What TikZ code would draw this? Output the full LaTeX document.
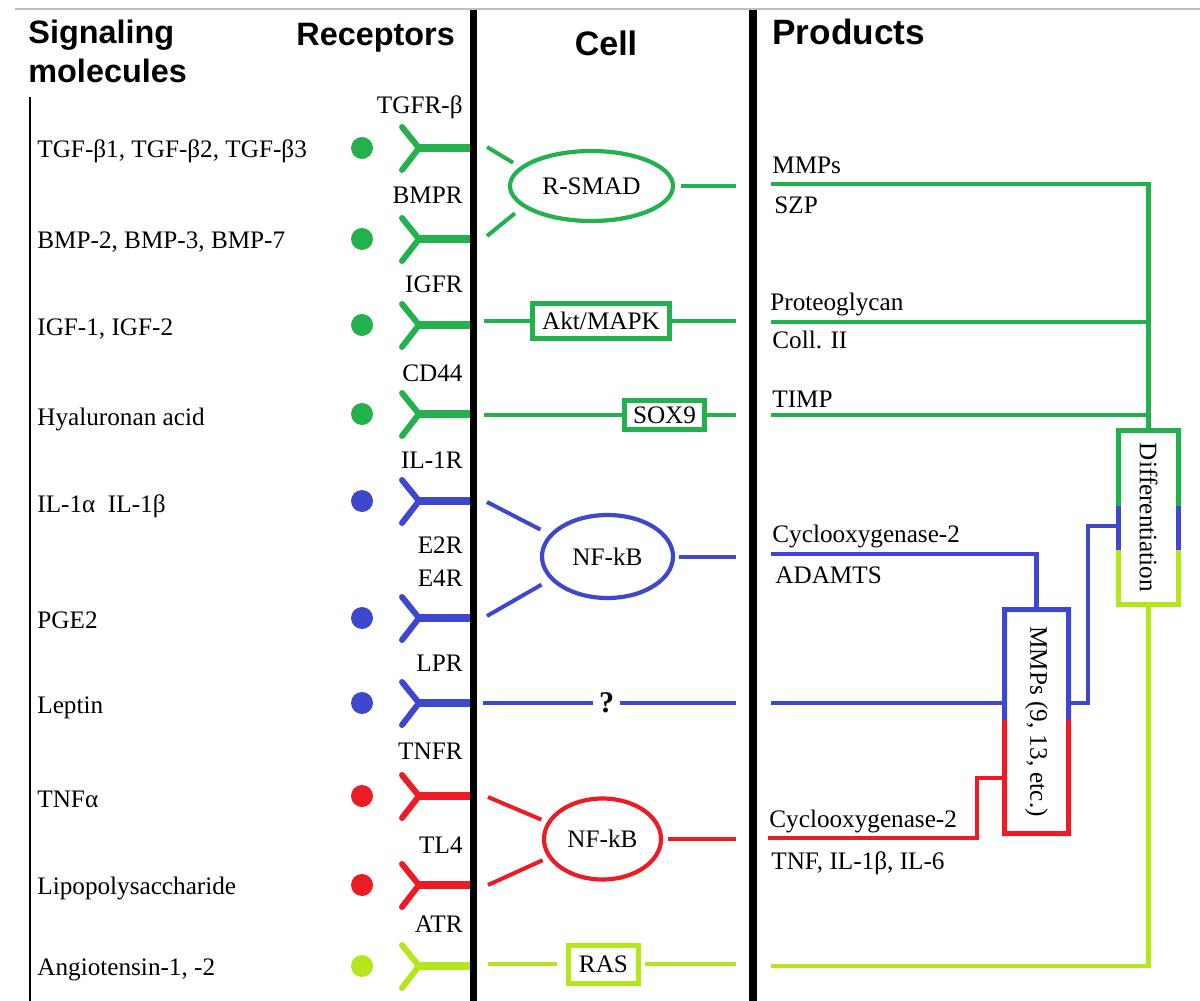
\documentclass[tikz,border=0pt]{standalone}
\usepackage{fontspec}
\setmainfont{Liberation Serif}
\newfontfamily\headfont{Liberation Sans}
\usetikzlibrary{calc,shapes.geometric}
\definecolor{pgreen}{RGB}{34,177,76}
\definecolor{pblue}{RGB}{63,72,204}
\definecolor{pred}{RGB}{237,28,36}
\definecolor{plime}{RGB}{181,230,29}
\begin{document}
\begin{tikzpicture}[x=0.5pt,y=-0.5pt,
	txt/.style={font=\fontsize{12.6}{15}\selectfont,inner sep=0pt},
	head/.style={font=\headfont\bfseries\fontsize{16.2}{19}\selectfont,inner sep=0pt},
	dot/.style={circle,inner sep=0pt,minimum size=11pt},
	sig/.style={line width=2pt},
	pline/.style={line width=2.3pt},
	oval/.style={ellipse,line width=2.1pt,txt},
	box/.style={rectangle,line width=2.5pt,txt},
	bord/.style={line width=2.5pt}]
	\useasboundingbox (0,0) rectangle (1200,1001);
	\draw[gray!50,line width=0.6pt] (15,9) -- (1200,9);
	\draw[line width=1pt] (30,97) -- (30,1001);
	\draw[line width=3.8pt] (473.5,10) -- (473.5,1001);
	\draw[line width=3.8pt] (753,10) -- (753,1001);
	\node[head,anchor=base west] (hsig) at (28,43) {Signaling};
	\node[head,anchor=base west] (hmol) at (28,82) {molecules};
	\node[head,anchor=base west] (hrec) at (296,45) {Receptors};
	\node[head,anchor=base,font=\headfont\bfseries\fontsize{17}{20}\selectfont] (hcell) at (606,55) {Cell};
	\node[head,anchor=base west,font=\headfont\bfseries\fontsize{17.6}{20}\selectfont] (hprod) at (772,44) {Products};
	\foreach \yy/\cc/\mb/\mol/\lb/\rec [count=\i] in {
		148/pgreen/157/{TGF-β1, TGF-β2, TGF-β3}/113/{TGFR-β},
		239/pgreen/248/{BMP-2, BMP-3, BMP-7}/203/BMPR,
		325/pgreen/335/{IGF-1, IGF-2}/292/IGFR,
		414/pgreen/425/{Hyaluronan acid}/381/CD44,
		501/pblue/512/{IL-1α\ \ IL-1β}/468/IL-1R,
		618/pblue/628/PGE2/586/E4R,
		703/pblue/713/Leptin/671/LPR,
		796/pred/807/TNFα/759/TNFR,
		885/pred/894/Lipopolysaccharide/853/TL4,
		966/plime/975/{Angiotensin-1, -2}/932/ATR}
	{
		\node[txt,anchor=base west] (mol\i) at (37,\mb) {\mol};
		\node[dot,fill=\cc] (dot\i) at (362,\yy) {};
		\node[txt,anchor=base east] (rec\i) at (463,\lb) {\rec};
		\draw[\cc,line width=3pt,line cap=round] (402,{\yy-21}) -- (419,\yy) -- (402,{\yy+22});
		\draw[\cc,line width=3.6pt] (419,\yy) -- (470,\yy);
	}
	\node[txt,anchor=base east] (rec6b) at (463,553) {E2R};
	\node[oval,draw=pgreen,minimum width=81.5pt,minimum height=35pt] (rsmad) at (591.5,186) {R-SMAD};
	\coordinate (g1) at (487,147);
	\coordinate (g2) at (487,236);
	\coordinate (g0) at (736,186);
	\draw[sig,pgreen,shorten >=4pt] (g1) -- (rsmad.165);
	\draw[sig,pgreen,shorten >=5pt] (g2) -- (rsmad.197);
	\draw[sig,pgreen,shorten <=3pt] (rsmad) -- (g0);
	\node[box,draw=pgreen,minimum width=68.5pt,minimum height=17.5pt] (akt) at (601,321) {Akt/MAPK};
	\coordinate (a1) at (484,321);
	\coordinate (a0) at (736,321);
	\draw[sig,pgreen] (a1) -- (akt);
	\draw[sig,pgreen] (akt) -- (a0);
	\node[box,draw=pgreen,minimum width=40pt,minimum height=14.5pt] (sox) at (664.5,415) {SOX9};
	\coordinate (s1) at (484,415);
	\coordinate (s0) at (736,415);
	\draw[sig,pgreen] (s1) -- (sox);
	\draw[sig,pgreen] (sox) -- (s0);
	\node[oval,draw=pblue,minimum width=65.5pt,minimum height=41.5pt] (nfb) at (607.5,556.5) {NF-kB};
	\coordinate (b1) at (487,502);
	\coordinate (b2) at (487,616);
	\coordinate (b0) at (736,556.5);
	\draw[sig,pblue,shorten >=5pt] (b1) -- (nfb.159);
	\draw[sig,pblue,shorten >=5pt] (b2) -- (nfb.202);
	\draw[sig,pblue,shorten <=2pt] (nfb) -- (b0);
	\node[txt,font=\bfseries\fontsize{15}{18}\selectfont,inner sep=3pt] (qm) at (606.5,703) {?};
	\coordinate (l1) at (483,703);
	\coordinate (l0) at (736,703);
	\draw[sig,pblue] (l1) -- (qm);
	\draw[sig,pblue] (qm) -- (l0);
	\node[oval,draw=pred,minimum width=58.5pt,minimum height=40.5pt] (nfr) at (602.5,839) {NF-kB};
	\coordinate (r1) at (488,797);
	\coordinate (r2) at (488,885);
	\coordinate (r0) at (736,839);
	\draw[sig,pred,shorten >=3pt] (r1) -- (nfr.163);
	\draw[sig,pred,shorten >=3pt] (r2) -- (nfr.199);
	\draw[sig,pred,shorten <=2.5pt] (nfr) -- (r0);
	\node[box,draw=plime,minimum width=35pt,minimum height=19pt] (ras) at (603.5,964) {RAS};
	\coordinate (n1) at (488,964);
	\coordinate (n0) at (736,964);
	\draw[sig,plime,shorten >=4.3pt] (n1) -- (ras);
	\draw[sig,plime,shorten <=1.8pt] (ras) -- (n0);
	\node[txt,anchor=base west] (pt1) at (772,173) {MMPs};
	\node[txt,anchor=base west] (pt2) at (774,213) {SZP};
	\node[txt,anchor=base west] (pt3) at (770,310) {Proteoglycan};
	\node[txt,anchor=base west] (pt4) at (772,348) {Coll. II};
	\node[txt,anchor=base west] (pt5) at (772,407) {TIMP};
	\node[txt,anchor=base west] (pt6) at (772,542) {Cyclooxygenase-2};
	\node[txt,anchor=base west] (pt7) at (775,583) {ADAMTS};
	\node[txt,anchor=base west] (pt8) at (769,827) {Cyclooxygenase-2};
	\node[txt,anchor=base west] (pt9) at (771,869) {TNF, IL-1β, IL-6};
	\node[minimum width=30pt,minimum height=87pt,inner sep=0pt,outer sep=0pt] (diff) at (1148.5,517.5) {};
	\node[txt,rotate=-90] (difft) at (diff) {Differentiation};
	\node[minimum width=32pt,minimum height=112pt,inner sep=0pt,outer sep=0pt] (mmps) at (1036.5,721.5) {};
	\node[txt,rotate=-90] (mmpst) at (mmps) {MMPs (9, 13, etc.)};
	\draw[bord,pgreen] ($(diff.north west)!0.434!(diff.south west)$) -- (diff.north west) -- (diff.north east) -- ($(diff.north east)!0.434!(diff.south east)$);
	\draw[bord,pblue] ($(diff.north west)!0.434!(diff.south west)$) -- ($(diff.north west)!0.687!(diff.south west)$);
	\draw[bord,pblue] ($(diff.north east)!0.434!(diff.south east)$) -- ($(diff.north east)!0.687!(diff.south east)$);
	\draw[bord,plime] ($(diff.north west)!0.687!(diff.south west)$) -- (diff.south west) -- (diff.south east) -- ($(diff.north east)!0.687!(diff.south east)$);
	\draw[bord,pblue] ($(mmps.north west)!0.493!(mmps.south west)$) -- (mmps.north west) -- (mmps.north east) -- ($(mmps.north east)!0.493!(mmps.south east)$);
	\draw[bord,pred] ($(mmps.north west)!0.493!(mmps.south west)$) -- (mmps.south west) -- (mmps.south east) -- ($(mmps.north east)!0.493!(mmps.south east)$);
	\coordinate (p1) at (771,184);
	\coordinate (p2) at (771,322);
	\coordinate (p3) at (771,415);
	\coordinate (p5) at (771,554);
	\coordinate (p7) at (771,703);
	\coordinate (p8) at (768,838);
	\coordinate (p10) at (771,966);
	\coordinate (k1) at (1088,526);
	\coordinate (k2) at (977,778);
	\draw[pline,pgreen] (p1) -| (diff.north);
	\draw[pline,pgreen] (p2) -- (p2 -| diff.north);
	\draw[pline,pgreen] (p3) -- (p3 -| diff.north);
	\draw[pline,pblue] (p5) -| (mmps.north);
	\draw[pline,pblue] (p7) -- (p7 -| mmps.west);
	\draw[pline,pblue] (p7 -| mmps.east) -| (k1) -- (k1 -| diff.west);
	\draw[pline,pred] (p8) -| (k2) -- (k2 -| mmps.west);
	\draw[pline,plime] (p10) -| (diff.south);
\end{tikzpicture}
\end{document}
